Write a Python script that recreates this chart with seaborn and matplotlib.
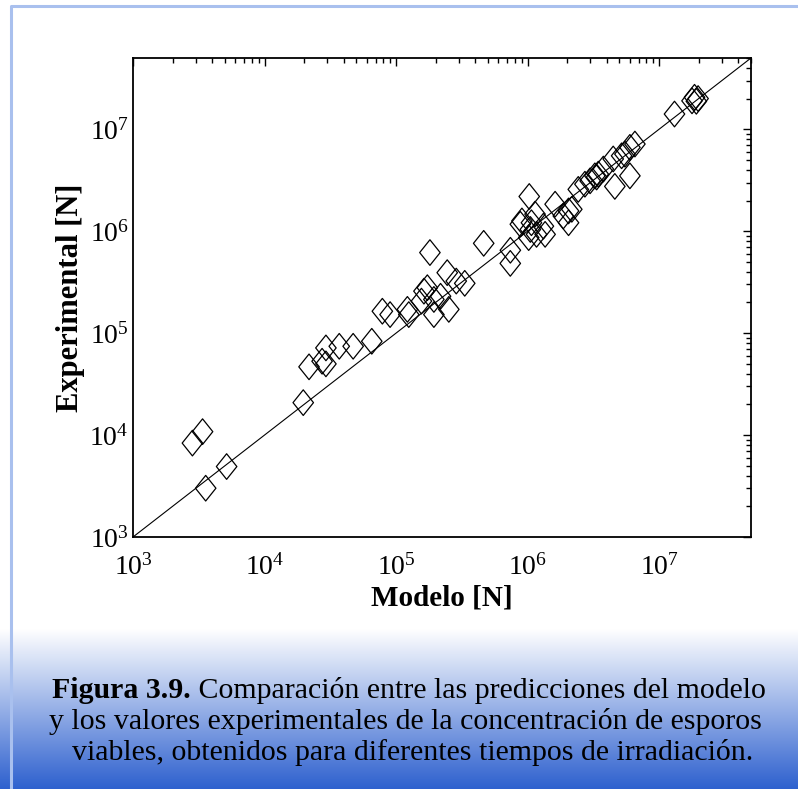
import numpy as np
import pandas as pd
import seaborn as sns
import matplotlib as mpl
mpl.use('Agg')
import matplotlib.pyplot as plt
from matplotlib.path import Path
from matplotlib.ticker import LogLocator, NullFormatter

# model prediction vs experimental viable spore counts
modelo = [2830, 3380, 3570, 5150, 19700, 21800, 27400, 29300, 29300, 37000,
          47200, 65400, 78700, 90100, 122000, 125000, 156000, 163000, 173000, 181000,
          194000, 194000, 218000, 245000, 252000, 287000, 333000, 464000, 740000, 739000,
          881000, 906000, 1.03e6, 1.07e6, 1.14e6, 1.05e6, 1.02e6, 1.17e6, 1.32e6, 1.36e6,
          1.62e6, 1.87e6, 2.05e6, 2.17e6, 2.05e6, 2.43e6, 2.73e6, 2.99e6, 3.25e6, 3.35e6,
          3.45e6, 3.77e6, 4.48e6, 4.61e6, 5.19e6, 5.50e6, 6.0e6, 6.55e6, 6.0e6, 1.31e7,
          1.78e7, 1.86e7, 1.92e7, 1.98e7]
experimental = [8340, 10800, 3010, 4910, 20800, 46700, 53000, 49900, 71600, 74300,
                74300, 83200, 164000, 152000, 171000, 152000, 206000, 258000, 279000, 617000,
                152000, 214000, 230000, 392000, 171000, 324000, 308000, 760000, 650000, 483000,
                1.17e6, 1.26e6, 2.19e6, 1.21e6, 1.47e6, 1.04e6, 865000, 931000, 1.12e6, 931000,
                1.84e6, 1.41e6, 1.58e6, 1.64e6, 1.21e6, 2.57e6, 2.89e6, 3.12e6, 3.49e6, 3.40e6,
                3.63e6, 4.07e6, 5.11e6, 2.75e6, 5.49e6, 5.70e6, 6.64e6, 7.16e6, 3.49e6, 1.41e7,
                1.90e7, 2.06e7, 1.88e7, 2.00e7]
lims = [1e3, 5e7]

caption_bold = "Figura 3.9."
caption_l1 = " Comparación entre las predicciones del modelo"
caption_l2 = "y los valores experimentales de la concentración de esporos"
caption_l3 = "viables, obtenidos para diferentes tiempos de irradiación."

df = pd.DataFrame({'Modelo': modelo, 'Experimental': experimental})

sns.set_style("white")
plt.rcParams['font.family'] = ['Liberation Serif', 'DejaVu Serif']
plt.rcParams['mathtext.fontset'] = 'custom'
plt.rcParams['mathtext.rm'] = 'Liberation Serif'
plt.rcParams['mathtext.it'] = 'Liberation Serif:italic'
plt.rcParams['mathtext.bf'] = 'Liberation Serif:bold'
plt.rcParams['text.color'] = 'black'
plt.rcParams['axes.labelcolor'] = 'black'
plt.rcParams['xtick.color'] = 'black'
plt.rcParams['ytick.color'] = 'black'

W, H = 798, 789
fig = plt.figure(figsize=(W/100, H/100), dpi=100)

# caption background gradient
gax = fig.add_axes([0, 0, 1, 160/H])
grad = np.linspace(0, 1, 256)[:, None]
c_top = np.array([1.0, 1.0, 1.0])
c_bot = np.array([0.18, 0.38, 0.81])
img = c_top[None, None, :] * (1 - grad[..., None]) + c_bot[None, None, :] * grad[..., None]
img = np.repeat(img, 2, axis=1)
gax.imshow(img, aspect='auto', extent=[0, 1, 0, 1])
gax.set_axis_off()

# light blue frame
frame = fig.add_axes([0, 0, 1, 1], facecolor='none')
frame.set_xlim(0, W)
frame.set_ylim(H, 0)
frame.plot([11, 11, W], [H, 6, 6], color='#a9c0ee', lw=2.2, solid_capstyle='butt')
frame.set_axis_off()

ax = fig.add_axes([133/W, 1 - 537/H, (751 - 133)/W, (537 - 58)/H])
diamond = Path([(0, 1), (0.8, 0), (0, -1), (-0.8, 0), (0, 1)],
               [Path.MOVETO, Path.LINETO, Path.LINETO, Path.LINETO, Path.CLOSEPOLY])
ax.axline((lims[0], lims[0]), (lims[1], lims[1]), color='black', lw=0.8, zorder=1)
sns.scatterplot(ax=ax, data=df, x='Modelo', y='Experimental', marker=diamond, s=340,
                facecolor='none', edgecolor='black', linewidth=0.9, zorder=2)
ax.set_xscale('log')
ax.set_yscale('log')
ax.set_xlim(lims)
ax.set_ylim(lims)

for a in (ax.xaxis, ax.yaxis):
    a.set_major_locator(LogLocator(base=10, numticks=20))
    a.set_minor_locator(LogLocator(base=10, subs=np.arange(2, 10), numticks=20))
    a.set_minor_formatter(NullFormatter())
ax.tick_params(which='both', direction='in', top=True, right=True, color='black', width=1)
ax.tick_params(which='major', length=6, labelsize=20)
ax.tick_params(axis='x', which='major', pad=12)
ax.tick_params(axis='y', which='major', pad=3)
ax.tick_params(which='minor', length=3.5)
for s in ax.spines.values():
    s.set_color('black')
    s.set_linewidth(1.3)

ax.set_xlabel("Modelo [N]", fontsize=21, fontweight='bold', labelpad=3)
ax.set_ylabel("Experimental [N]", fontsize=22, fontweight='bold', labelpad=3)

# caption with bold lead-in, centred lines
fs_cap = 21.5
r = fig.canvas.get_renderer()
tb = fig.text(0, 0, caption_bold, fontsize=fs_cap, fontweight='bold')
tr = fig.text(0, 0, caption_l1, fontsize=fs_cap)
wb = tb.get_window_extent(r).width
wr = tr.get_window_extent(r).width
x0 = 409 - (wb + wr)/2
tb.set_position((x0/W, 1 - 698/H))
tr.set_position(((x0 + wb)/W, 1 - 698/H))
fig.text(405/W, 1 - 729/H, caption_l2, fontsize=fs_cap, ha='center')
fig.text(413/W, 1 - 760/H, caption_l3, fontsize=fs_cap, ha='center')

plt.savefig('out.png', dpi=100)
